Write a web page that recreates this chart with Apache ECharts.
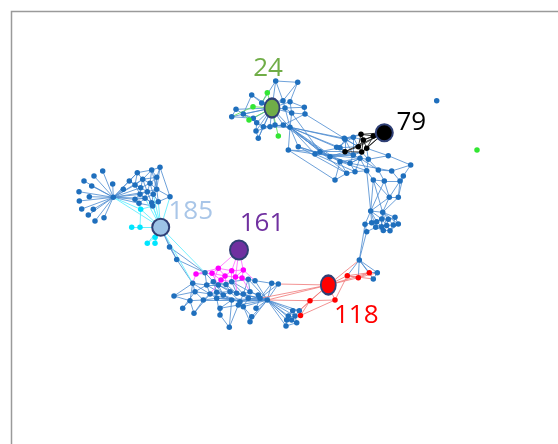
<!DOCTYPE html>
<html><head><meta charset="utf-8">
<script src="https://cdn.jsdelivr.net/npm/echarts@6/dist/echarts.min.js"></script>
<style>html,body{margin:0;padding:0;background:#fff}#c{width:558px;height:444px}</style>
</head><body><div id="c"></div>
<script>
// ---- DATA ----
// hub nodes: id, x, y, label
const hubNodes = [
  ['N24', 272, 108, '24'],
  ['N79', 384.3, 132.7, '79'],
  ['N185', 160.7, 227.3, '185'],
  ['N161', 239, 250, '161'],
  ['N118', 328.3, 285, '118']
];
// member nodes: id, x, y, colour group
const clusterA = [
 ['A1',275.7,81,'b'],['A2',297.7,82.3,'b'],['A3',267.3,92.7,'g'],['A4',251.7,95,'b'],['A5',261.7,103,'b'],
 ['A6',283,100.7,'b'],['A7',290,101.7,'b'],['A8',253,106.7,'g'],['A9',236,109.3,'b'],['A10',231.7,116.7,'b'],
 ['A11',243.3,114,'b'],['A12',304.3,107.3,'b'],['A13',305,114,'b'],['A14',285,108,'b'],['A15',291.7,113,'b'],
 ['A16',253.3,118.3,'b'],['A17',256.7,122.7,'b'],['A18',263.3,126.7,'b'],['A19',270,126.7,'b'],['A20',275,125,'b'],
 ['A21',283.3,125,'b'],['A22',290,127.3,'b'],['A23',249,120,'g'],['A24',256,131,'b'],['A25',258.3,138.3,'b'],
 ['A26',278.3,136,'g'],['A27',288.3,150,'b'],['A28',298.3,146.7,'b']
];
const clusterB = [
 ['B1',361,134.3,'k'],['B2',373.3,136,'k'],['B3',353.3,137.3,'b'],['B4',345,139.3,'b'],['B5',363.3,140,'k'],
 ['B6',340,147.7,'b'],['B7',345,151.7,'k'],['B8',358.3,146.7,'k'],['B9',366.7,148.3,'k'],['B10',361.7,152,'k'],
 ['B11',353.3,155,'b'],['B12',360,158.3,'b'],['B13',368.3,159.3,'b'],['B14',315,154,'b'],['B15',320,151.7,'b'],
 ['B16',330,156.7,'b'],['B17',340,161.7,'b'],['B18',350,163.3,'b'],['B19',388.3,155.7,'b'],['B20',378.3,170,'b'],
 ['B21',366.7,170.7,'b'],['B22',391.7,171,'b'],['B23',355,171.7,'b'],['B24',346.7,173.3,'b'],['B25',335,180,'b'],
 ['B26',410.7,165,'b'],['B27',403.3,176,'b'],['B28',400,181,'b'],['B29',384.3,181,'b'],['B30',373.3,180,'b'],
 ['B31',336.7,147.3,'b'],['B32',344.3,138.3,'b']
];
const clusterC = [
 ['C1',389.3,197.3,'b'],['C2',398.3,197.3,'b'],['C3',370.7,211,'b'],['C4',382.7,212.3,'b'],['C5',365,224.3,'b'],
 ['C6',371.7,222.7,'b'],['C7',376.7,221.7,'b'],['C8',381.7,219,'b'],['C9',388.3,219.3,'b'],['C10',395,217.3,'b'],
 ['C11',398.3,224,'b'],['C12',375.7,227.3,'b'],['C13',381.7,226.7,'b'],['C14',386.7,225.5,'b'],['C15',393.3,225,'b'],
 ['C16',383.3,230.5,'b'],['C17',390,230.7,'b'],['C18',366.7,231.7,'b'],['C19',359.3,260,'b']
];
const clusterD = [
 ['D1',347.3,275.7,'r'],['D2',358.3,277.7,'r'],['D3',369.3,272.7,'r'],['D4',310,300.7,'r'],['D5',335,300,'r'],
 ['D6',377.3,272.7,'b'],['D7',373.3,279,'b']
];
const clusterE = [
 ['E1',292.7,310.7,'b'],['E2',299.3,310.7,'b'],['E3',288.3,316,'b'],['E4',295,316,'b'],['E5',300.5,315.5,'r'],
 ['E6',286.7,320,'b'],['E7',291.7,320,'b'],['E8',296.7,322.7,'b'],['E9',286,326,'b']
];
const clusterF = [
 ['M1',196,274,'m'],['M2',218.3,268.3,'m'],['M3',231.7,270.7,'m'],['M4',243.3,270,'m'],['M5',212,273.3,'m'],
 ['M6',225,276,'m'],['M7',221,280,'m'],['M8',235.5,277,'m'],['M9',242,278,'m'],
 ['F1',169.5,247,'b'],['F2',176.7,259.5,'b'],['F3',205,272.7,'b'],['F4',192.7,283.3,'b'],['F5',206.7,285,'b'],
 ['F6',213.3,281.7,'b'],['F7',218.3,285,'b'],['F8',226,284.5,'b'],['F9',231.7,281.7,'b'],['F10',248.3,279.3,'b'],
 ['F11',255,280.7,'b'],['F12',271.7,283.3,'b'],['F13',278.3,284,'b'],['F14',195,291.7,'b'],['F15',174,296,'b'],
 ['F16',210,294,'b'],['F17',216.7,292.3,'b'],['F18',223.3,295,'b'],['F19',230,291.7,'b'],['F20',236.7,293.3,'b'],
 ['F21',243.3,294,'b'],['F22',250,291.7,'b'],['F23',258.3,295,'b'],['F24',203.3,300,'b'],['F25',216.7,298.3,'b'],
 ['F26',231.7,300,'b'],['F27',240,301.7,'b'],['F28',248.3,298.3,'b'],['F29',260,298.3,'b'],['F30',267.3,300,'b'],
 ['F31',190,300.7,'b'],['F32',182.7,308.3,'b'],['F33',194,313.3,'b'],['F34',220,315,'b'],['F35',238.3,305,'b'],
 ['F36',243.3,306.7,'b'],['F37',256,308.3,'b'],['F38',251.7,316.7,'b'],['F39',250,321.7,'b'],['F40',229.3,327.3,'b'],
 ['F41',220,308.3,'b']
];
const clusterG = [
 ['G0',113.3,197.3,'b'],
 ['L1',102.7,171,'b'],['L2',94,176,'b'],['L3',84,181,'b'],['L4',91.7,186,'b'],['L5',79,191.7,'b'],['L6',89.3,196.7,'b'],
 ['L7',79.3,201,'b'],['L8',93.3,209.3,'b'],['L9',81.7,209,'b'],['L10',88.3,215,'b'],['L11',95,221,'b'],['L12',104,217.7,'b'],
 ['L13',112.7,184,'b'],['L14',123.3,189.3,'b'],
 ['K1',137.3,172.7,'b'],['K2',151.7,170,'b'],['K3',160,167.3,'b'],['K4',156.7,177.3,'b'],['K5',129.3,181,'b'],
 ['K6',142.7,179.3,'b'],['K7',135,185,'b'],['K8',140.7,187.7,'b'],['K9',150,183.3,'b'],['K10',156.7,189.3,'b'],
 ['K11',147.3,191.7,'b'],['K12',153.3,194.3,'b'],['K13',140,194.3,'b'],['K14',135,199.3,'b'],['K15',145,198.3,'b'],
 ['K16',158.3,201.7,'b'],['K17',170,196.7,'b'],['K18',151.7,202.7,'b'],['K19',139,203.3,'b'],['K20',152.7,206,'b'],
 ['Cy1',140.7,209.3,'c'],['Cy2',131.7,227.3,'c'],['Cy3',140,227.3,'c'],['Cy4',147.3,243.3,'c'],['Cy5',155,243.3,'c'],['Cy6',155,237.3,'c']
];
const isolated = [['I1',436.7,100.7,'b'],['I2',477,150,'g']];

// edges by colour
const blueEdges = ('N24-A1 N24-A4 N24-A5 N24-A6 N24-A7 N24-A9 N24-A10 N24-A11 N24-A14 N24-A15 N24-A16 N24-A17 N24-A18 N24-A19 N24-A20 N24-A21 N24-A22 N24-A24 N24-A25 ' +
 'A1-A6 A1-A5 A2-A7 A2-A6 A4-A5 A4-A11 A9-A11 A10-A16 A11-A16 A12-A14 A13-A15 A12-A7 A13-A21 A14-A22 A15-A22 A16-A17 A17-A18 A18-A19 A19-A20 A20-A21 A21-A22 ' +
 'A24-A17 A25-A18 A27-A22 A28-A22 A6-A14 A7-A15 A24-A19 A2-A1 A12-A13 A9-A10 A5-A6 A14-A15 A20-A22 A19-A22 A18-A21 A24-A25 A11-A17 ' +
 'A22-B14 A22-B15 A22-B16 A22-B31 A22-B32 A22-B17 A22-B24 A22-B6 A22-B4 A27-B14 A28-B16 A27-B25 A28-B18 A21-B16 A27-B15 A28-B24 A15-B15 A13-B32 ' +
 'B3-B4 B3-B1 B4-B6 B6-B7 B3-B11 B4-B11 B11-B12 B12-B13 B13-B9 B11-B18 B12-B18 B17-B18 B16-B17 B15-B16 B14-B15 B14-B11 B15-B6 ' +
 'B31-B3 B32-B3 B31-B6 B32-B1 B16-B11 B17-B12 B19-B13 B19-B9 B19-B26 B20-B12 B20-B22 B21-B12 B21-B23 B23-B24 B24-B17 B25-B24 ' +
 'B25-B17 B26-B27 B27-B28 B22-B28 B29-B20 B30-B21 B29-B30 B28-B29 B22-B26 B20-B13 B23-B18 B21-B13 B3-B8 B4-B7 B6-B11 B12-B10 ' +
 'B17-B21 B18-B22 B14-B12 B15-B18 B16-B10 B31-B11 B32-B8 B14-B23 B3-B5 B4-B8 B6-B8 B7-B11 B11-B10 B13-B10 B18-B12 B23-B12 B16-B7 B15-B7 ' +
 'B30-C3 B29-C1 B28-C2 B30-C1 B29-C3 B27-C2 B28-C1 C1-C2 C1-C3 C1-C4 C2-C4 B21-C3 B30-C4 ' +
 'C3-C4 C3-C5 C3-C6 C3-C8 C4-C8 C4-C9 C4-C10 C4-C14 C3-C7 C5-C6 C6-C7 C7-C8 C8-C9 C9-C10 C10-C11 C11-C15 C12-C13 C13-C14 ' +
 'C14-C15 C16-C17 C12-C16 C13-C16 C14-C17 C15-C17 C5-C18 C18-C12 C6-C12 C7-C13 C9-C14 C10-C15 C8-C13 C9-C15 C11-C17 C18-C19 C5-C19 C4-C11 C3-C12 C4-C13 C6-C13 C8-C14 ' +
 'C19-D1 C19-D2 C19-D3 C19-D6 C19-D7 D6-D7 D3-D6 ' +
 'F30-E1 F30-E2 F30-E3 F30-E4 F30-E6 F30-E7 F30-E9 E1-E2 E1-E3 E2-E4 E3-E4 E3-E6 E6-E7 E7-E8 E4-E7 E6-E9 E9-E8 E4-E8 E1-E4 ' +
 'F3-F6 F3-F5 F4-F5 F5-F6 F6-F7 F7-F8 F8-F9 F9-F10 F10-F11 F11-F12 F12-F13 F13-F30 F12-F30 F11-F30 F4-F14 F14-F16 F15-F14 F15-F31 ' +
 'F15-F4 F16-F17 F17-F18 F18-F19 F19-F20 F20-F21 F21-F22 F22-F23 F23-F29 F29-F30 F24-F16 F24-F25 F25-F26 F26-F27 F27-F28 F28-F29 ' +
 'F31-F24 F32-F31 F33-F24 F33-F16 F34-F25 F34-F41 F41-F26 F35-F27 F36-F28 F37-F30 F37-F29 F38-F36 F39-F36 F40-F26 F40-F34 F5-F16 ' +
 'F6-F17 F7-F18 F8-F19 F9-F20 F10-F22 F16-F25 F17-F26 F18-F26 F19-F27 F20-F28 F21-F29 F22-F30 F23-F30 F27-F30 F28-F30 F26-F30 ' +
 'F35-F30 F36-F30 F38-F30 F39-F30 F21-F27 F7-F19 F8-F20 F9-F21 F10-F21 F5-F18 F6-F8 F17-F25 F24-F14 F4-F31 F2-F4 F1-F2 F1-F3 F3-F2 ' +
 'F32-F14 F33-F31 F40-F35 F41-F35 F12-F29 F13-F29 F25-F30 F24-F26 F4-F16 F14-F5 F19-F30 F20-F30 F10-F30 F6-F18 F7-F20 F9-F22 F16-F26 F18-F27 F17-F19 F5-F7 ' +
 'N185-F1 N185-F2 ' +
 'G0-L1 G0-L2 G0-L3 G0-L4 G0-L5 G0-L6 G0-L7 G0-L8 G0-L9 G0-L10 G0-L11 G0-L12 G0-L13 G0-L14 G0-K5 G0-K7 G0-K8 G0-K13 G0-K14 G0-K11 G0-K15 G0-K19 G0-K1 G0-K6 ' +
 'K1-K5 K1-K6 K1-K2 K2-K3 K2-K4 K3-K4 K4-K6 K4-K9 K5-K7 K6-K7 K6-K8 K6-K9 K7-K8 K8-K9 K9-K10 K10-K12 K11-K12 K8-K11 K11-K13 ' +
 'K13-K14 K14-K15 K15-K18 K12-K16 K16-K17 K17-K10 K18-K20 K19-K20 K19-K14 K12-K15 K10-K11 K9-K12 K3-K10 K2-K9 K4-K10 K13-K15 ' +
 'K18-K16 K11-K15 K5-K8 K1-K7 K12-K18 K16-K20 K3-K17 K2-K6 K11-K18 K7-K13 K14-K19 K9-K11 K4-K12 K6-K11 K13-K18 K8-K13 K10-K16 K15-K19 K2-K10').split(' ');
const greenEdges = 'N24-A3 N24-A8 N24-A23 N24-A26 A8-A10 A3-A5 A23-A11'.split(' ');
const blackEdges = 'N79-B1 N79-B2 N79-B5 N79-B8 N79-B9 N79-B10 N79-B7 B1-B5 B5-B8 B8-B10 B9-B10 B7-B8 B1-B2 B2-B9 B5-B9 B7-B10 B1-B8 B5-B10 B2-B5'.split(' ');
const cyanEdges = ('K20-Cy1 K19-Cy1 K18-N185 K20-N185 K16-N185 K17-N185 K15-N185 Cy1-N185 Cy2-N185 Cy3-N185 Cy4-N185 Cy5-N185 Cy6-N185 ' +
 'Cy2-Cy3 Cy4-Cy6 Cy5-Cy6 G0-N185 Cy1-Cy3 K14-Cy1 G0-Cy1 N185-F3 N185-F4 K12-N185').split(' ');
const magentaEdges = ('N161-M3 N161-M4 N161-M2 N161-M8 M1-M5 M2-M5 M2-M3 M3-M4 M4-M9 M5-M6 M6-M8 M7-M6 M8-M9 M2-M6 M3-M8 M1-M2 ' +
 'M5-M7 M4-M8 M1-F3 M1-F4 M5-F7 M6-F8 M7-F9 M9-F10 M3-F9 M8-F20 M2-F6 M4-F11 M7-F16 M3-M6 M9-F22').split(' ');
const redEdges = ('N118-D1 N118-D2 N118-D3 N118-D4 N118-D5 N118-C19 D1-D3 D3-D7 D1-D7 D1-D2 D2-D3 D2-D6 D4-D5 D4-E5 D4-E2 ' +
 'N118-F30 N118-F29 N118-E2 D4-F30 D5-E5 N118-F13 D5-D1').split(' ');

// ---- CHART ----
const colours = { b: '#1f6fbd', g: '#33e633', k: '#000000', c: '#00e5ff', m: '#ff00ff', r: '#ff0000' };
const hubStyle = {
  N24: { fill: '#70ad47', size: [15, 19], txt: '#70ad47', off: [-4, -39] },
  N79: { fill: '#000000', size: [17, 17], txt: '#000000', off: [27, -10] },
  N185: { fill: '#9dc3e6', size: [17, 17], txt: '#a9c6e8', off: [30, -16] },
  N161: { fill: '#7030a0', size: [18, 19], txt: '#7030a0', off: [23, -26] },
  N118: { fill: '#ff0000', size: [15, 19], txt: '#ff0000', off: [28, 31] }
};
const nodes = [];
[clusterA, clusterB, clusterC, clusterD, clusterE, clusterF, clusterG, isolated].forEach(list => {
  list.forEach(([id, x, y, grp]) => nodes.push({
    name: id, value: [x, y], symbolSize: 5.5,
    itemStyle: { color: colours[grp] }, label: { show: false }
  }));
});
hubNodes.forEach(([id, x, y, lab]) => {
  const s = hubStyle[id];
  nodes.push({
    name: id, value: [x, y], symbolSize: s.size,
    itemStyle: { color: s.fill, borderColor: '#2f3f75', borderWidth: 2 },
    label: { show: true, formatter: lab, position: 'inside', offset: s.off, color: s.txt,
      fontSize: 26, fontFamily: 'Open Sans', align: 'center', verticalAlign: 'middle' }
  });
});
const links = [];
function addLinks(list, color, op, w) {
  list.forEach(e => {
    if (!e) return;
    const [s, t] = e.split('-');
    links.push({ source: s, target: t, lineStyle: { color: color, opacity: op, width: w } });
  });
}
addLinks(blueEdges, '#4a8ad0', 0.8, 1);
addLinks(greenEdges, '#66dd66', 0.9, 1);
addLinks(cyanEdges, '#66eeff', 0.9, 1);
addLinks(magentaEdges, '#ff66ff', 0.8, 1);
addLinks(redEdges, '#f07878', 0.8, 1);
addLinks(blackEdges, '#202020', 0.85, 1);

const chart = echarts.init(document.getElementById('c'), null, { renderer: 'canvas' });
chart.setOption({
  animation: false,
  backgroundColor: '#ffffff',
  grid: { left: 0, right: 0, top: 0, bottom: 0 },
  xAxis: { type: 'value', min: 0, max: 558, show: false },
  yAxis: { type: 'value', min: 0, max: 444, inverse: true, show: false },
  graphic: [{ type: 'rect', shape: { x: 11.5, y: 11.5, width: 600, height: 500 },
    style: { fill: 'none', stroke: '#9a9a9a', lineWidth: 1.5 }, z: 0 }],
  series: [{
    type: 'graph', coordinateSystem: 'cartesian2d', layout: 'none',
    symbol: 'circle', data: nodes, links: links,
    emphasis: { disabled: true }, silent: true
  }]
});
</script></body></html>
